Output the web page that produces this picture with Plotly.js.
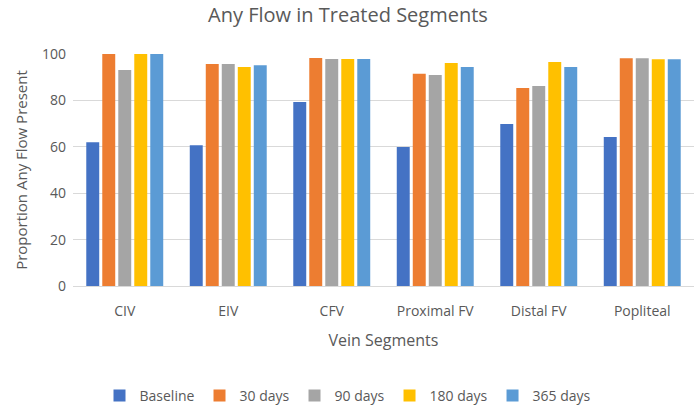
<!DOCTYPE html>
<html><head><meta charset="utf-8">
<script src="https://cdn.plot.ly/plotly-3.0.1.min.js"></script>
<style>html,body{margin:0;padding:0;background:#fff}#chart{width:696px;height:406px}</style>
</head><body><div id="chart"></div>
<script>
const categories = ["CIV", "EIV", "CFV", "Proximal FV", "Distal FV", "Popliteal"];
const seriesNames = ["Baseline", "30 days", "90 days", "180 days", "365 days"];
const baseline = [62.0, 60.7, 79.3, 59.9, 69.8, 64.2];
const days30 = [100, 95.7, 98.3, 91.5, 85.3, 98.2];
const days90 = [93.1, 95.7, 97.8, 90.9, 86.2, 98.2];
const days180 = [100, 94.4, 97.8, 96.1, 96.5, 97.7];
const days365 = [100, 95.2, 97.8, 94.4, 94.4, 97.7];
const yTicks = [0, 20, 40, 60, 80, 100];
const colors = ["#4472C4", "#ED7D31", "#A5A5A5", "#FFC000", "#5B9BD5"];
const values = [baseline, days30, days90, days180, days365];
const font = "Open Sans, Liberation Sans, sans-serif";
const data = values.map((v, i) => ({
  type: "bar", x: categories, y: v, name: seriesNames[i],
  marker: {color: colors[i]}, hoverinfo: "none"
}));
const layout = {
  width: 696, height: 406,
  margin: {l: 73, r: 2, t: 54, b: 120},
  paper_bgcolor: "#fff", plot_bgcolor: "#fff",
  font: {family: font, color: "#595959", size: 14},
  title: {text: "Any Flow in Treated Segments", x: 0.5, xanchor: "center", y: 1 - 15/406, yanchor: "middle", yref: "container",
          font: {family: font, size: 20, color: "#595959"}},
  barmode: "group", bargap: 0.227, bargroupgap: 0.19,
  xaxis: {showgrid: false, showline: true, linecolor: "#D9D9D9", linewidth: 1, ticks: "",
          tickfont: {size: 14, color: "#595959"}, ticklabelstandoff: 12,
          title: {text: "Vein Segments", font: {size: 16, color: "#595959"}, standoff: 16}},
  yaxis: {range: [0, 100], tickvals: yTicks, showgrid: true, gridcolor: "#D9D9D9", zeroline: false,
          showline: false, ticks: "", tickfont: {size: 14, color: "#595959"}, ticklabelstandoff: 6,
          title: {text: "Proportion Any Flow Present", font: {size: 15, color: "#595959"}, standoff: 10}},
  legend: {orientation: "h", x: 0.5, xanchor: "center", xref: "container", y: 10/406, yref: "container", yanchor: "middle",
           font: {size: 14, color: "#595959"}, itemwidth: 14, tracegroupgap: 0},
  showlegend: true
};
Plotly.newPlot("chart", data, layout, {displayModeBar: false, staticPlot: true});
</script></body></html>
